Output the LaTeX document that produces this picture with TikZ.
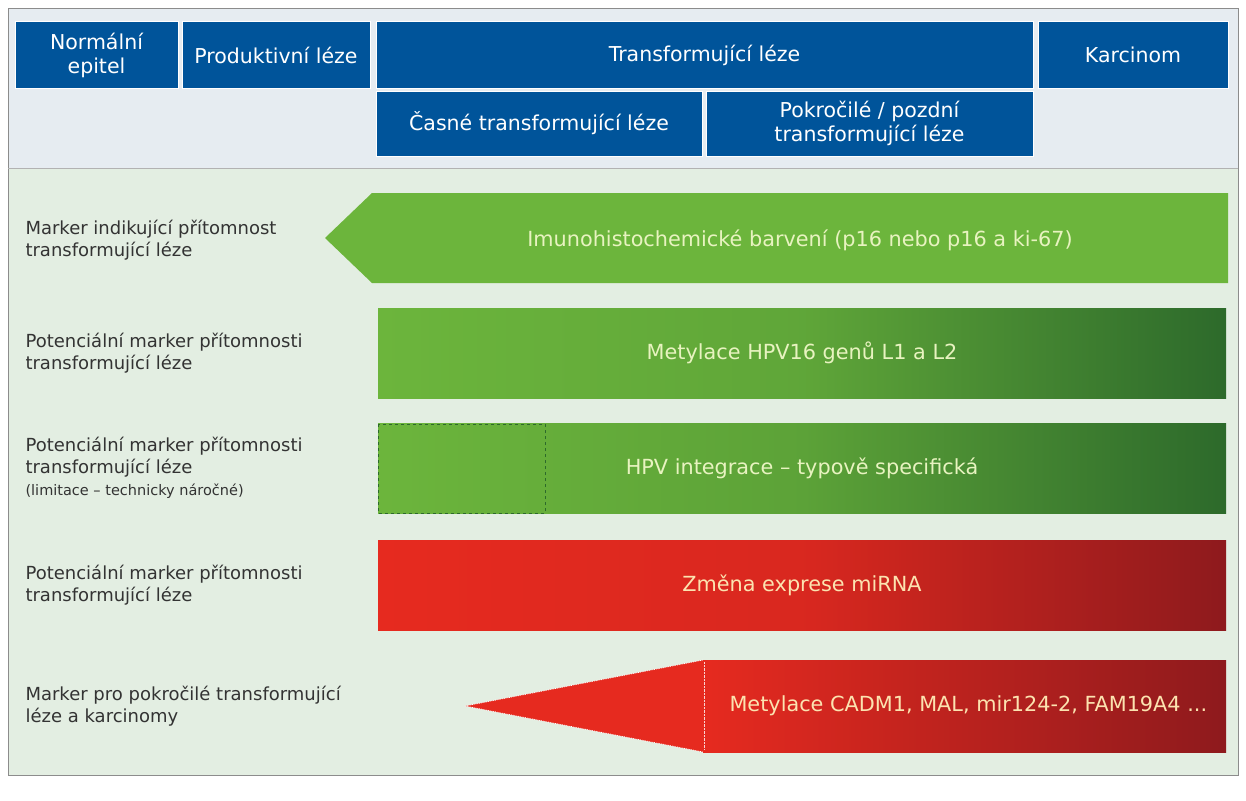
\documentclass[tikz,border=0pt]{standalone}
\usepackage{fontspec}
\setmainfont{DejaVu Sans}
\definecolor{hdr}{HTML}{00549A}
\definecolor{topbg}{HTML}{E6ECF1}
\definecolor{botbg}{HTML}{E3EEE2}
\definecolor{lg}{HTML}{6CB53C}
\definecolor{dg}{HTML}{2D6A2B}
\definecolor{rd}{HTML}{E62A1F}
\definecolor{drd}{HTML}{8E1A1D}
\definecolor{ltxt}{HTML}{E8F3C0}
\definecolor{rtxt}{HTML}{FCE3B0}
\begin{document}
\begin{tikzpicture}[x=1pt,y=-1pt,
 hbox/.style={fill=hdr,draw=white,line width=1pt,text=white,font=\fontsize{20.5}{24}\selectfont,align=center,inner sep=0pt},
 lab/.style={anchor=west,align=left,font=\fontsize{18}{22}\selectfont,text=black!80},
 btxt/.style={font=\fontsize{20.8}{24}\selectfont}]
\useasboundingbox (0,0) rectangle (1246,800);
\fill[white] (0,0) rectangle (1246,800);
\fill[topbg] (8,8) rectangle (1238,168);
\fill[botbg] (8,168) rectangle (1238,775);
\draw[black!45,line width=0.8pt] (8,8) rectangle (1238,775);
\draw[black!30] (8,168) -- (1238,168);
% header
\node[hbox,minimum width=163,minimum height=66] (h1) at (96.5,55) {Normální\\epitel};
\node[hbox,minimum width=188,minimum height=66] (h2) at (276,55) {Produktivní léze};
\node[hbox,minimum width=657,minimum height=66] (h3) at (704.5,55) {Transformující léze};
\node[hbox,minimum width=190,minimum height=66] (h4) at (1133,55) {Karcinom};
\node[hbox,minimum width=326,minimum height=65] (h5) at (539,123.5) {Časné transformující léze};
\node[hbox,minimum width=327,minimum height=65] (h6) at (869.5,123.5) {Pokročilé / pozdní\\transformující léze};
% labels
\node[lab] (l1) at (22,240) {Marker indikující přítomnost\\transformující léze};
\node[lab] (l2) at (22,353) {Potenciální marker přítomnosti\\transformující léze};
\node[lab] (l3) at (22,468) {Potenciální marker přítomnosti\\transformující léze\\{\fontsize{14.5}{17}\selectfont (limitace – technicky náročné)}};
\node[lab] (l4) at (22,585) {Potenciální marker přítomnosti\\transformující léze};
\node[lab] (l5) at (22,706) {Marker pro pokročilé transformující\\léze a karcinomy};
% row1
\fill[lg] (325,238) -- (372,193) -- (1228,193) -- (1228,283) -- (372,283) -- cycle;
\node[btxt,text=ltxt] (b1) at (800,240) {Imunohistochemické barvení (p16 nebo p16 a ki-67)};
% row2
\shade[left color=lg,right color=dg,middle color=lg!80!dg] (378,308) rectangle (1226,398);
\node[btxt,text=ltxt] (b2) at (802,353) {Metylace HPV16 genů L1 a L2};
% row3
\shade[left color=lg,right color=dg,middle color=lg!75!dg] (378,423) rectangle (1226,513);
\draw[dg,dashed,line width=1pt] (378,424) rectangle (545,513);
\node[btxt,text=ltxt] (b3) at (802,468) {HPV integrace – typově specifická};
% row4
\shade[left color=rd,right color=drd,middle color=rd!85!drd] (378,540) rectangle (1226,630);
\node[btxt,text=rtxt] (b4) at (802,585) {Změna exprese miRNA};
% row5
\fill[rd] (465,706) -- (703,660) -- (703,752) -- cycle;
\draw[white,densely dotted,line width=0.8pt] (465,706) -- (703,660) (465,706) -- (703,752);
\shade[left color=rd,right color=drd] (703,660) rectangle (1226,752);
\draw[white!80!rd,densely dotted] (704,662) -- (704,750);
\node[btxt,text=rtxt,anchor=west] (b5) at (726,706) {Metylace CADM1, MAL, mir124-2, FAM19A4 ...};
\end{tikzpicture}
\end{document}
